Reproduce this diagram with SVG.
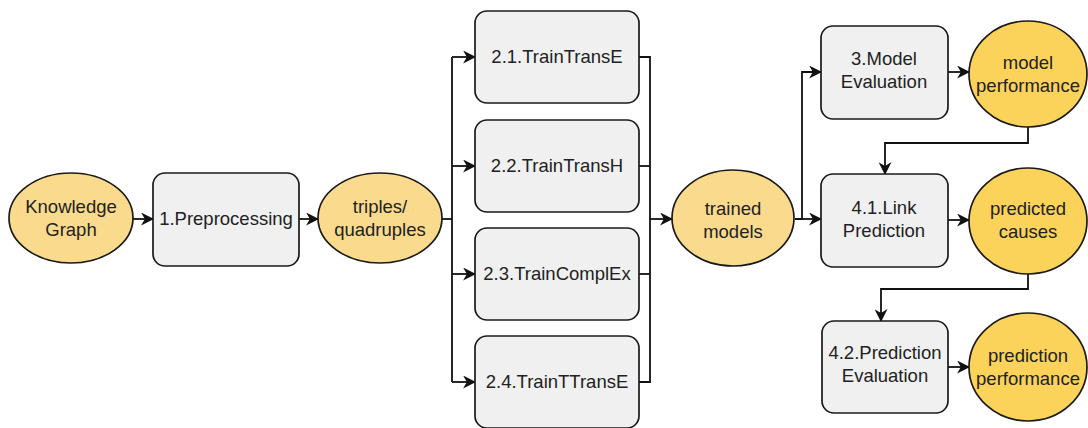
<svg xmlns="http://www.w3.org/2000/svg" width="1088" height="428" viewBox="0 0 1088 428">
  <defs>
    <marker id="arrow" viewBox="0 0 12 12" refX="11" refY="6" markerWidth="13" markerHeight="13" markerUnits="userSpaceOnUse" orient="auto">
      <path d="M0,0 L12,6 L0,12 L3.5,6 Z" fill="#111"/>
    </marker>
    <style>
      .box { fill: #f0f0f0; stroke: #1a1a1a; stroke-width: 1.7; }
      .data { fill: #fadb8e; stroke: #1a1a1a; stroke-width: 1.7; }
      .result { fill: #fcd35a; stroke: #1a1a1a; stroke-width: 1.7; }
      .lbl { font-family: "Liberation Sans", Arial, sans-serif; font-size: 18.5px; fill: #222; text-anchor: middle; }
      .edge { fill: none; stroke: #111; stroke-width: 1.8; }
      .arr { marker-end: url(#arrow); }
    </style>
  </defs>
  <rect width="1088" height="428" fill="#ffffff"/>

  <!-- connectors -->
  <g id="connectors">
    <line class="edge arr" x1="133" y1="219" x2="153" y2="219"/>
    <line class="edge arr" x1="299" y1="219" x2="318" y2="219"/>
    <!-- fan-out to training steps -->
    <polyline class="edge" points="441,219 452,219"/>
    <polyline class="edge" points="452,57 452,382"/>
    <line class="edge arr" x1="452" y1="57" x2="475" y2="57"/>
    <line class="edge arr" x1="452" y1="166" x2="475" y2="166"/>
    <line class="edge arr" x1="452" y1="274" x2="475" y2="274"/>
    <line class="edge arr" x1="452" y1="382" x2="475" y2="382"/>
    <!-- fan-in to trained models -->
    <polyline class="edge" points="639,57 650,57 650,382 639,382"/>
    <line class="edge" x1="639" y1="166" x2="650" y2="166"/>
    <line class="edge" x1="639" y1="274" x2="650" y2="274"/>
    <line class="edge arr" x1="650" y1="219" x2="672" y2="219"/>
    <!-- trained models to evaluation and prediction -->
    <polyline class="edge arr" points="795,219 802,219 802,72 821,72"/>
    <line class="edge arr" x1="802" y1="219" x2="821" y2="219"/>
    <line class="edge arr" x1="948" y1="72" x2="969" y2="72"/>
    <polyline class="edge arr" points="1028,126 1028,143 885,143 885,174"/>
    <line class="edge arr" x1="948" y1="220" x2="969" y2="220"/>
    <polyline class="edge arr" points="1028,274 1028,289 881,289 881,321"/>
    <line class="edge arr" x1="948" y1="367" x2="969" y2="367"/>
  </g>

  <g id="knowledge-graph">
    <ellipse class="data" cx="71" cy="218" rx="62" ry="45"/>
    <text class="lbl" x="71" y="213">Knowledge</text>
    <text class="lbl" x="71" y="236">Graph</text>
  </g>

  <g id="preprocessing">
    <rect class="box" x="153" y="173" width="146" height="93" rx="12"/>
    <text class="lbl" x="226" y="225">1.Preprocessing</text>
  </g>

  <g id="triples">
    <ellipse class="data" cx="380" cy="218" rx="62" ry="45"/>
    <text class="lbl" x="380" y="213">triples/</text>
    <text class="lbl" x="380" y="236">quadruples</text>
  </g>

  <g id="train-transe">
    <rect class="box" x="475" y="11" width="164" height="92" rx="12"/>
    <text class="lbl" x="557" y="63">2.1.TrainTransE</text>
  </g>

  <g id="train-transh">
    <rect class="box" x="475" y="120" width="164" height="92" rx="12"/>
    <text class="lbl" x="557" y="172">2.2.TrainTransH</text>
  </g>

  <g id="train-complex">
    <rect class="box" x="475" y="228" width="164" height="92" rx="12"/>
    <text class="lbl" x="557" y="280">2.3.TrainComplEx</text>
  </g>

  <g id="train-ttranse">
    <rect class="box" x="475" y="336" width="164" height="92" rx="12"/>
    <text class="lbl" x="557" y="388">2.4.TrainTTransE</text>
  </g>

  <g id="trained-models">
    <ellipse class="data" cx="733" cy="218" rx="61" ry="48"/>
    <text class="lbl" x="733" y="215">trained</text>
    <text class="lbl" x="733" y="238">models</text>
  </g>

  <g id="model-evaluation">
    <rect class="box" x="821" y="26" width="127" height="93" rx="12"/>
    <text class="lbl" x="884" y="65">3.Model</text>
    <text class="lbl" x="884" y="88">Evaluation</text>
  </g>

  <g id="model-performance">
    <ellipse class="result" cx="1028" cy="74" rx="59" ry="53"/>
    <text class="lbl" x="1028" y="69">model</text>
    <text class="lbl" x="1028" y="92">performance</text>
  </g>

  <g id="link-prediction">
    <rect class="box" x="821" y="174" width="127" height="93" rx="12"/>
    <text class="lbl" x="884" y="214">4.1.Link</text>
    <text class="lbl" x="884" y="237">Prediction</text>
  </g>

  <g id="predicted-causes">
    <ellipse class="result" cx="1028" cy="221" rx="59" ry="53"/>
    <text class="lbl" x="1028" y="215">predicted</text>
    <text class="lbl" x="1028" y="238">causes</text>
  </g>

  <g id="prediction-evaluation">
    <rect class="box" x="822" y="321" width="126" height="92" rx="12"/>
    <text class="lbl" x="885" y="359">4.2.Prediction</text>
    <text class="lbl" x="885" y="382">Evaluation</text>
  </g>

  <g id="prediction-performance">
    <ellipse class="result" cx="1028" cy="367" rx="59" ry="54"/>
    <text class="lbl" x="1028" y="362">prediction</text>
    <text class="lbl" x="1028" y="385">performance</text>
  </g>
</svg>
